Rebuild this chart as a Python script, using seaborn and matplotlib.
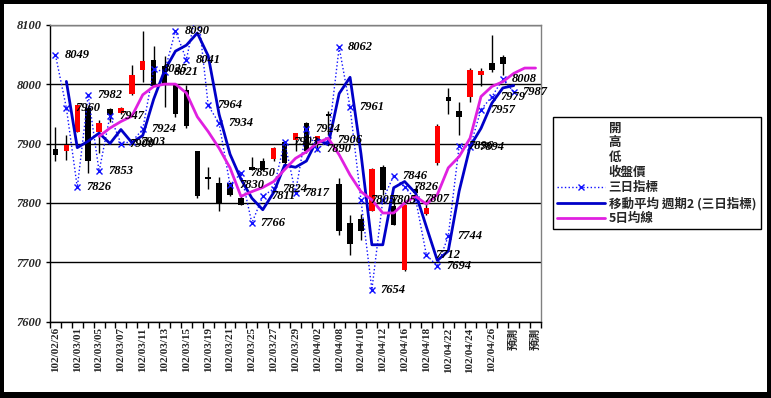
import numpy as np
import pandas as pd
import matplotlib
matplotlib.use("Agg")
import matplotlib.pyplot as plt
from matplotlib.lines import Line2D
from matplotlib.patches import Rectangle
import seaborn as sns

# ---- data ----
dates = ['102/02/26', '102/02/27', '102/03/01', '102/03/04', '102/03/05', '102/03/06',
         '102/03/07', '102/03/08', '102/03/11', '102/03/12', '102/03/13', '102/03/14',
         '102/03/15', '102/03/18', '102/03/19', '102/03/20', '102/03/21', '102/03/22',
         '102/03/25', '102/03/26', '102/03/27', '102/03/28', '102/03/29', '102/04/01',
         '102/04/02', '102/04/03', '102/04/08', '102/04/09', '102/04/10', '102/04/11',
         '102/04/12', '102/04/15', '102/04/16', '102/04/17', '102/04/18', '102/04/19',
         '102/04/22', '102/04/23', '102/04/24', '102/04/25', '102/04/26', '102/04/29',
         '預測', '預測', '預測']

opens = [7891, 7887, 7919, 7960, 7919, 7958, 7951, 7983, 8023, 8041, 8030, 7999, 7990, 7887,
         7843, 7833, 7833, 7808, 7861, 7871, 7874, 7903, 7906, 7934, 7903, 7949, 7831, 7766,
         7773, 7787, 7861, 7795, 7687, 7824, 7781, 7867, 7978, 7954, 7978, 8016, 8035, 8045]
highs = [7928, 7914, 7965, 7962, 7940, 7960, 7961, 8032, 8090, 8064, 8048, 8001, 7999, 7887,
         7861, 7843, 7836, 7814, 7877, 7875, 7894, 7905, 7918, 7937, 7913, 7954, 7842, 7780,
         7781, 7858, 7863, 7811, 7798, 7830, 7805, 7933, 7994, 7970, 8027, 8027, 8083, 8049]
lows = [7871, 7873, 7919, 7850, 7884, 7937, 7950, 7982, 8003, 7996, 7962, 7945, 7926, 7808,
        7824, 7786, 7811, 7796, 7855, 7853, 7870, 7859, 7887, 7884, 7887, 7915, 7746, 7713,
        7738, 7786, 7814, 7762, 7686, 7806, 7780, 7864, 7949, 7914, 7970, 7996, 8021, 8016]
closes = [7880, 7898, 7964, 7870, 7934, 7948, 7960, 8016, 8039, 7996, 7998, 7950, 7929, 7811,
          7840, 7800, 7814, 7797, 7856, 7856, 7893, 7867, 7917, 7887, 7912, 7946, 7752, 7730,
          7753, 7857, 7822, 7763, 7797, 7816, 7791, 7930, 7971, 7944, 8024, 8022, 8024, 8033]

three_day = [8049, 7960, 7826, 7982, 7853, 7947, 7900, 7903, 7924, 8025, 8021, 8090, 8041, 8131,
             7964, 7934, 7830, 7850, 7766, 7811, 7824, 7903, 7817, 7924, 7890, 7906, 8062, 7961,
             7805, 7654, 7805, 7846, 7826, 7807, 7712, 7694, 7744, 7896, 7894, 7957, 7979, 8008,
             7987]

ma5 = [None, None, None, None, 7912, 7926, 7937, 7946, 7982, 7996, 8000, 8000, 7985, 7945,
       7920, 7892, 7859, 7811, 7819, 7826, 7836, 7856, 7875, 7886, 7901, 7909, 7881, 7847,
       7819, 7805, 7783, 7783, 7800, 7811, 7798, 7814, 7859, 7878, 7909, 7979, 7996, 8004,
       8018, 8027, 8027]

legend_labels = ['開', '高', '低', '收盤價', '三日指標', '移動平均 週期2 (三日指標)', '5日均線']

# ---- frame ----
n = len(dates)
df = pd.DataFrame({'pos': np.arange(n)})
df['three_day'] = pd.Series(three_day, dtype=float)
df['ma2'] = df['three_day'].rolling(2).mean()
df['ma5'] = pd.Series(ma5, dtype=float)

sns.set_theme(style="white")
plt.rcParams['font.family'] = ['Liberation Serif', 'Noto Sans CJK TC', 'DejaVu Sans']

W, H = 771, 398
fig = plt.figure(figsize=(W / 100, H / 100), dpi=100)
fig.patch.set_facecolor('black')
fig.patches.append(Rectangle((4 / W, 6 / H), 763 / W, 388 / H, transform=fig.transFigure,
                             facecolor='white', edgecolor='none', zorder=-10))

ax = fig.add_axes([50 / W, (H - 321.7) / H, 491 / W, 297 / H])
ax.set_facecolor('white')

# candles
cpos = np.arange(len(opens))
o = np.array(opens)
c = np.array(closes)
ax.vlines(cpos, lows, highs, color='black', lw=1, zorder=2)
ax.bar(cpos, np.maximum(np.abs(c - o), 1.5), bottom=np.minimum(o, c), width=0.5,
       color=np.where(c >= o, '#FF0000', 'black'), linewidth=0, zorder=3)

# lines
sns.lineplot(data=df, x='pos', y='three_day', ax=ax, color='#1010FF', linestyle=':', lw=1,
             marker='x', markersize=5, markeredgewidth=1, markeredgecolor='#1010FF', zorder=4)
sns.lineplot(data=df, x='pos', y='ma2', ax=ax, color='#0000C8', lw=2, zorder=5)
sns.lineplot(data=df, x='pos', y='ma5', ax=ax, color='#E020E0', lw=2, zorder=5)

# data labels
for i, v in enumerate(three_day):
    if 7600 <= v <= 8100:
        ax.annotate(str(v), (i, v), xytext=(6.5, 0), textcoords='offset points',
                    ha='left', va='center', fontsize=9, style='italic', weight='bold',
                    color='black', zorder=6, annotation_clip=False)

ax.set_xlim(-0.5, n - 0.5)
ax.set_ylim(7600, 8100)
ax.set_yticks(np.arange(7600, 8101, 100))
ax.set_yticklabels([str(v) for v in range(7600, 8101, 100)], fontsize=9, style='italic',
                   weight='bold')
ax.yaxis.grid(True, color='black', lw=1)
ax.set_axisbelow(True)

ax.set_xticks(np.arange(-0.5, n, 1))
ax.set_xticklabels([])
ax.set_xticks(np.arange(0, n, 2), minor=True)
ax.set_xticklabels(dates[::2], minor=True, rotation=90, fontsize=8, va='top', weight='bold')
ax.tick_params(axis='x', which='major', length=4, width=1, color='black', direction='out', bottom=True)
ax.tick_params(axis='x', which='minor', length=0, pad=4, bottom=True)
ax.tick_params(axis='y', length=3, width=1, color='black', direction='out', pad=3, left=True)
ax.set_xlabel('')
ax.set_ylabel('')

for s in ['left', 'bottom']:
    ax.spines[s].set_color('black')
    ax.spines[s].set_linewidth(1)
for s in ['top', 'right']:
    ax.spines[s].set_color('#808080')
    ax.spines[s].set_linewidth(1)

# legend
blank = Line2D([], [], linestyle='none')
handles = [blank, blank, blank, blank,
           Line2D([], [], color='#1010FF', linestyle=':', lw=1, marker='x', markersize=5),
           Line2D([], [], color='#0000C8', lw=2),
           Line2D([], [], color='#E020E0', lw=2)]
leg = fig.legend(handles, legend_labels, loc='upper left', bbox_to_anchor=(553 / W, 1 - 117 / H),
                 frameon=True, fancybox=False, edgecolor='black', framealpha=1,
                 prop={'family': ['Noto Sans CJK TC', 'DejaVu Sans'], 'size': 9, 'weight': 'bold'},
                 handlelength=3.8, handletextpad=0.3, labelspacing=0.16, borderpad=0.35,
                 borderaxespad=0)
leg.get_frame().set_linewidth(1)

fig.savefig('out.png', dpi=100, facecolor=fig.get_facecolor())
